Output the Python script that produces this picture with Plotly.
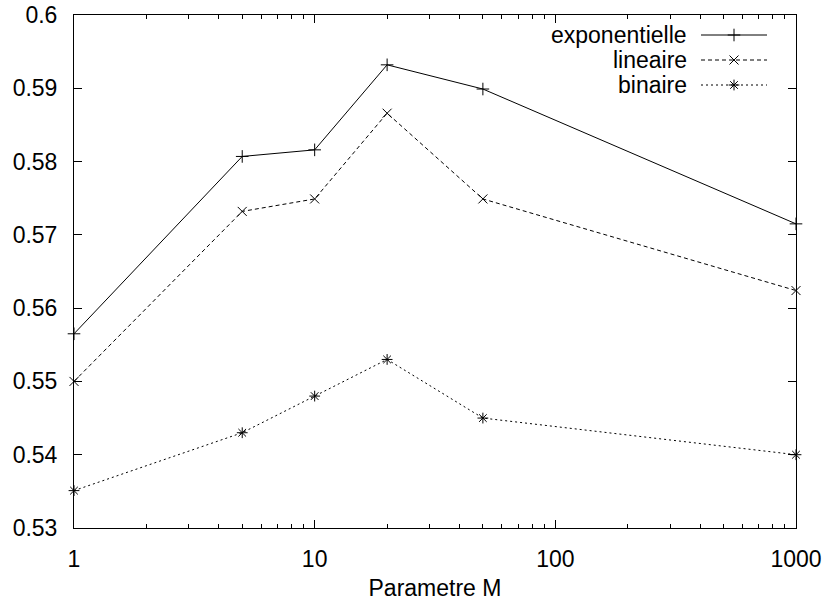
import plotly.graph_objects as go

# Parameter M values (log-scaled x axis)
m_values = [1, 5, 10, 20, 50, 1000]

# Scores for each weighting scheme
exponentielle = [0.5565, 0.5807, 0.5816, 0.5932, 0.5899, 0.5715]
lineaire = [0.5500, 0.5732, 0.5749, 0.5866, 0.5749, 0.5624]
binaire = [0.5351, 0.5430, 0.5480, 0.5530, 0.5450, 0.5400]

series_names = ["exponentielle", "lineaire", "binaire"]

x_tick_values = [1, 10, 100, 1000]
x_tick_labels = ["1", "10", "100", "1000"]
x_minor_values = [k * d for d in (1, 10, 100) for k in range(2, 10)]
y_tick_values = [0.53, 0.54, 0.55, 0.56, 0.57, 0.58, 0.59, 0.60]
y_tick_labels = ["0.53", "0.54", "0.55", "0.56", "0.57", "0.58", "0.59", "0.6"]

FONT = "Liberation Sans, Arial, Helvetica, sans-serif"
FS = 23
INK = "#000000"

styles = [
    dict(dash="solid", symbol="cross-thin"),
    dict(dash="4px,3px", symbol="x-thin"),
    dict(dash="2px,3px", symbol="asterisk"),
]

fig = go.Figure()
for name, ys, st in zip(series_names, [exponentielle, lineaire, binaire], styles):
    fig.add_trace(go.Scatter(
        x=m_values, y=ys, mode="lines+markers", name=name,
        line=dict(color=INK, width=1, dash=st["dash"]),
        marker=dict(symbol=st["symbol"], size=9, color=INK,
                    line=dict(color=INK, width=1)),
        showlegend=False, cliponaxis=False,
    ))

# Key in the upper-right corner: label on the left, line sample on the right,
# drawn on a helper axis spanning the plot area in pixel units
W, H = 827, 601
ML, MR, MT, MB = 74, 31, 15, 73
pw, ph = W - ML - MR, H - MT - MB
key_rows = [20, 45, 70]          # row centres, px below the top of the plot area
key_text_right = 615             # px from left of plot area
key_line = (627, 693)
for name, st, ry in zip(series_names, styles, key_rows):
    fig.add_trace(go.Scatter(
        x=[key_line[0], (key_line[0] + key_line[1]) / 2, key_line[1]],
        y=[ry, ry, ry], mode="lines", xaxis="x2", yaxis="y2",
        line=dict(color=INK, width=1, dash=st["dash"]),
        showlegend=False, hoverinfo="skip",
    ))
    fig.add_trace(go.Scatter(
        x=[(key_line[0] + key_line[1]) / 2], y=[ry], mode="markers",
        xaxis="x2", yaxis="y2",
        marker=dict(symbol=st["symbol"], size=9, color=INK,
                    line=dict(color=INK, width=1)),
        showlegend=False, hoverinfo="skip",
    ))
    fig.add_annotation(
        x=key_text_right, y=ry, xref="x2", yref="y2", text=name,
        showarrow=False, xanchor="right", yanchor="middle",
        font=dict(family=FONT, size=FS, color=INK),
    )

fig.update_layout(
    width=W, height=H,
    margin=dict(l=ML, r=MR, t=MT, b=MB, pad=0),
    paper_bgcolor="white", plot_bgcolor="white",
    font=dict(family=FONT, size=FS, color=INK),
    showlegend=False,
    xaxis=dict(
        type="log", range=[0, 3], automargin=False,
        tickmode="array", tickvals=x_tick_values, ticktext=x_tick_labels,
        ticks="inside", ticklen=8, tickwidth=1, tickcolor=INK,
        minor=dict(tickmode="array", tickvals=x_minor_values,
                   ticks="inside", ticklen=4, tickwidth=1, tickcolor=INK,
                   showgrid=False),
        showline=True, linecolor=INK, linewidth=1, mirror="allticks",
        showgrid=False, zeroline=False,
        ticklabelstandoff=10,
        title=dict(text="Parametre M", standoff=12,
                   font=dict(family=FONT, size=FS, color=INK)),
    ),
    yaxis=dict(
        range=[0.53, 0.60], automargin=False,
        tickmode="array", tickvals=y_tick_values, ticktext=y_tick_labels,
        ticks="inside", ticklen=8, tickwidth=1, tickcolor=INK,
        showline=True, linecolor=INK, linewidth=1, mirror="allticks",
        showgrid=False, zeroline=False,
        ticklabelstandoff=11,
    ),
    xaxis2=dict(overlaying="x", range=[0, pw], visible=False, fixedrange=True),
    yaxis2=dict(overlaying="y", range=[ph, 0], visible=False, fixedrange=True),
)

fig.write_html("out.html")
